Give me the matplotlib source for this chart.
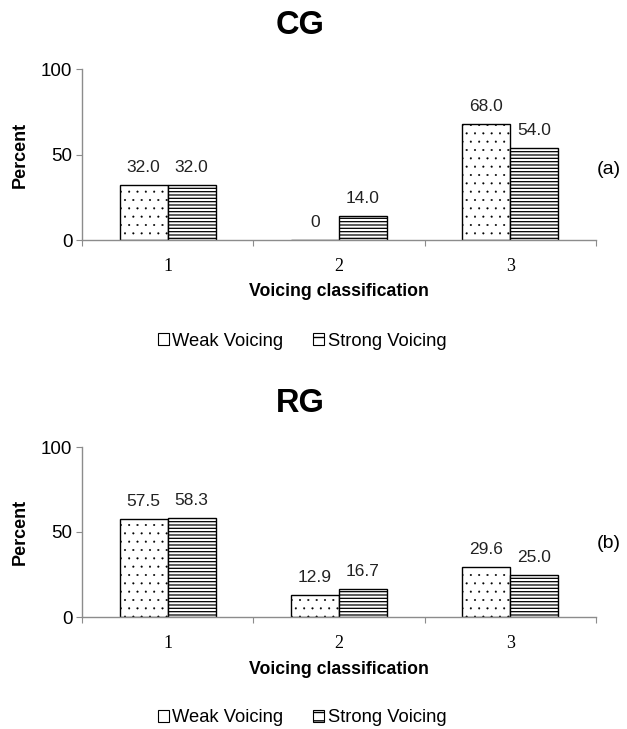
import matplotlib
matplotlib.use("Agg")
import matplotlib.pyplot as plt
from matplotlib.patches import Patch

plt.rcParams["font.family"] = ["Liberation Sans", "DejaVu Sans"]

# ---------- data ----------
categories = ["1", "2", "3"]
series_names = ["Weak Voicing", "Strong Voicing"]
cg_weak = [32.0, 0.0, 68.0]
cg_strong = [32.0, 14.0, 54.0]
rg_weak = [57.5, 12.9, 29.6]
rg_strong = [58.3, 16.7, 25.0]

panels = [
    ("CG", "(a)", cg_weak, cg_strong),
    ("RG", "(b)", rg_weak, rg_strong),
]

W, H = 627, 729
fig = plt.figure(figsize=(W / 100, H / 100), dpi=100)

AX_GRAY = "#8c8c8c"
hatches = ["..", "-----"]
hatch_lw = [0.25, 0.9]
bw = 0.28


def fmt(v):
    return "0" if v == 0 else f"{v:.1f}"


def px(x0, y0, x1, y1):
    # pixel box (top-left origin) -> figure fraction rect
    return [x0 / W, 1 - y1 / H, (x1 - x0) / W, (y1 - y0) / H]


layout = [
    dict(rect=px(82, 69, 596, 240), title_y=26, tag_y=170, xlab_y=292, leg_y=341),
    dict(rect=px(82, 447, 596, 617), title_y=404, tag_y=544, xlab_y=669, leg_y=718),
]

for (name, tag, weak, strong), lay in zip(panels, layout):
    ax = fig.add_axes(lay["rect"])
    xs = range(len(categories))
    for i, vals in enumerate([weak, strong]):
        offs = (i - 0.5) * bw
        with plt.rc_context({"hatch.linewidth": hatch_lw[i]}):
            bars = ax.bar([x + offs for x in xs], vals, width=bw, color="white",
                          edgecolor="black", linewidth=1.0, hatch=hatches[i], zorder=2)
        for b, v in zip(bars, vals):
            ax.annotate(fmt(v), (b.get_x() + b.get_width() / 2, v),
                        xytext=(0, 12.5), textcoords="offset points",
                        ha="center", va="center", fontsize=12.5, color="#222222")

    ax.set_xlim(-0.5, 2.5)
    ax.set_ylim(0, 100)
    ax.set_yticks([0, 50, 100])
    ax.tick_params(axis="y", direction="out", length=4, color=AX_GRAY,
                   labelsize=13.5, pad=3)
    ax.set_xticks([-0.5, 0.5, 1.5, 2.5])
    ax.set_xticklabels([])
    ax.set_xticks(list(xs), minor=True)
    ax.set_xticklabels(categories, minor=True, fontsize=13,
                       family=["Liberation Serif", "DejaVu Serif"])
    ax.tick_params(axis="x", which="major", direction="out", length=4, color=AX_GRAY)
    ax.tick_params(axis="x", which="minor", length=0, pad=13)
    for s in ["top", "right"]:
        ax.spines[s].set_visible(False)
    for s in ["left", "bottom"]:
        ax.spines[s].set_color(AX_GRAY)
        ax.spines[s].set_linewidth(1.0)
    ax.set_ylabel("Percent", fontsize=13, fontweight="bold", labelpad=9)

    fig.text(300 / W, 1 - lay["title_y"] / H, name, ha="center", va="center",
             fontsize=23.5, fontweight="bold")
    fig.text(609 / W, 1 - lay["tag_y"] / H, tag, ha="center", va="center", fontsize=14)
    fig.text(339 / W, 1 - lay["xlab_y"] / H, "Voicing classification",
             ha="center", va="center", fontsize=12.7, fontweight="bold")

    handles = [Patch(facecolor="white", edgecolor="black", hatch=h, linewidth=0.8)
               for h in ["", "--"]]
    fig.legend(handles, series_names, loc="center", ncol=2, frameon=False,
               bbox_to_anchor=(302 / W, 1 - lay["leg_y"] / H), fontsize=13.2,
               handlelength=0.6, handleheight=0.6, handletextpad=0.2,
               columnspacing=1.6)

fig.savefig("out.png", dpi=100)
